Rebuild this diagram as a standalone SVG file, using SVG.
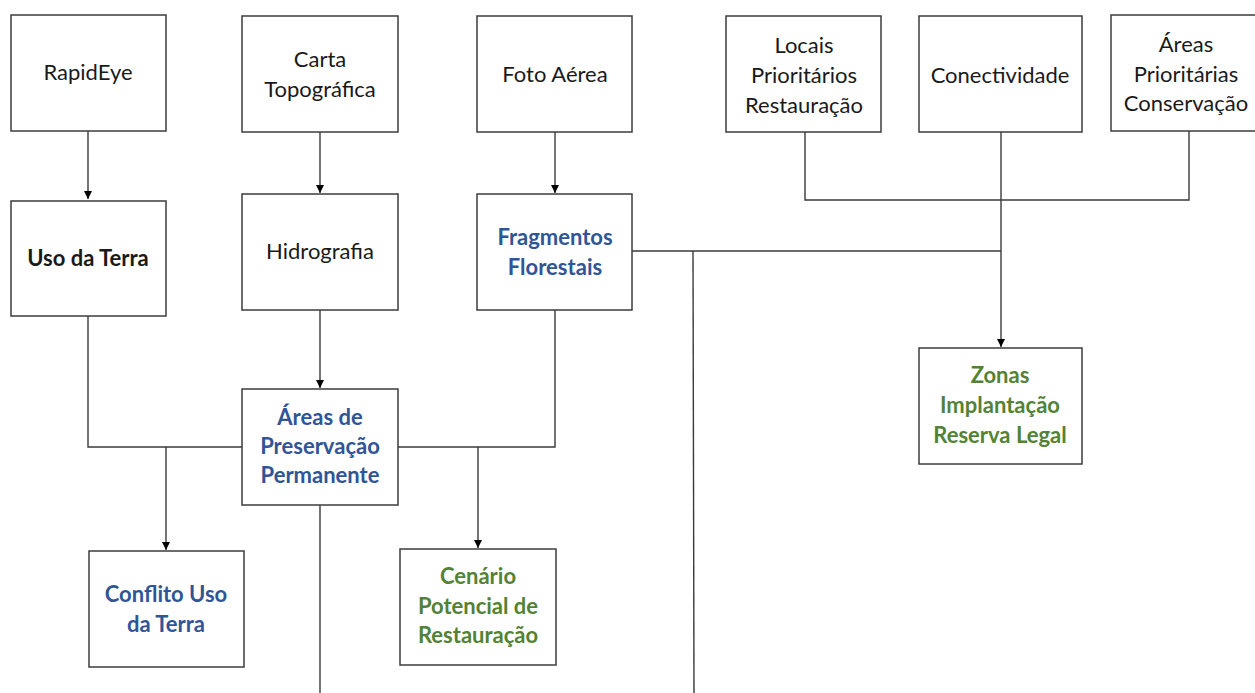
<svg xmlns="http://www.w3.org/2000/svg" width="1255" height="693" viewBox="0 0 1255 693">
<defs>
<marker id="arr" markerUnits="userSpaceOnUse" markerWidth="10" markerHeight="10" refX="8" refY="4" orient="auto">
<path d="M0,0 L8,4 L0,8 Z" fill="#000"/>
</marker>
<style>
.box{fill:#fff;stroke:#3c3c3c;stroke-width:1.5}
.t{font-family:Lato,"Liberation Sans",sans-serif;font-size:22px;fill:#1a1a1a;text-anchor:middle}
.b{font-weight:bold}
.blue{fill:#2F5597;font-weight:bold}
.green{fill:#548235;font-weight:bold}
.ln{fill:none;stroke:#3a3a3a;stroke-width:1.4}
</style>
</defs>
<rect width="1255" height="693" fill="#fff"/>
<g id="connectors">
<line class="ln" x1="88" y1="131" x2="88" y2="199" marker-end="url(#arr)"/>
<line class="ln" x1="320" y1="132" x2="320" y2="193" marker-end="url(#arr)"/>
<line class="ln" x1="555" y1="132" x2="555" y2="193" marker-end="url(#arr)"/>
<line class="ln" x1="320" y1="310" x2="320" y2="388" marker-end="url(#arr)"/>
<polyline class="ln" points="88,316 88,447 242,447"/>
<line class="ln" x1="166" y1="447" x2="166" y2="550" marker-end="url(#arr)"/>
<polyline class="ln" points="555,310 555,447 398,447"/>
<line class="ln" x1="478" y1="447" x2="478" y2="548" marker-end="url(#arr)"/>
<line class="ln" x1="320" y1="505" x2="320" y2="693"/>
<polyline class="ln" points="805,132 805,200 1189,200 1189,131"/>
<line class="ln" x1="1001" y1="132" x2="1001" y2="347" marker-end="url(#arr)"/>
<line class="ln" x1="632" y1="251" x2="1001" y2="251"/>
<line class="ln" x1="693" y1="251" x2="694" y2="693"/>
</g>
<g id="rapideye"><rect class="box" x="11" y="15" width="155" height="116"/><text class="t" x="88" y="80">RapidEye</text></g>
<g id="carta"><rect class="box" x="242" y="16" width="156" height="116"/><text class="t" x="320" y="67">Carta</text><text class="t" x="320" y="97">Topográfica</text></g>
<g id="foto"><rect class="box" x="477" y="16" width="155" height="116"/><text class="t" x="555" y="82">Foto Aérea</text></g>
<g id="locais"><rect class="box" x="726" y="16" width="155" height="116"/><text class="t" x="804" y="53">Locais</text><text class="t" x="804" y="83">Prioritários</text><text class="t" x="804" y="113">Restauração</text></g>
<g id="conectividade"><rect class="box" x="919" y="16" width="163" height="116"/><text class="t" x="1000" y="83">Conectividade</text></g>
<g id="areasprio"><rect class="box" x="1111" y="15" width="156" height="116"/><text class="t" x="1186" y="52">Áreas</text><text class="t" x="1186" y="82">Prioritárias</text><text class="t" x="1186" y="111">Conservação</text></g>
<g id="uso"><rect class="box" x="11" y="201" width="155" height="115"/><text class="t b" x="88" y="266">Uso da Terra</text></g>
<g id="hidro"><rect class="box" x="242" y="194" width="156" height="116"/><text class="t" x="320" y="259">Hidrografia</text></g>
<g id="frag"><rect class="box" x="477" y="194" width="155" height="116"/><text class="t blue" x="555" y="245">Fragmentos</text><text class="t blue" x="555" y="275">Florestais</text></g>
<g id="app"><rect class="box" x="242" y="389" width="156" height="116"/><text class="t blue" x="320" y="425">Áreas de</text><text class="t blue" x="320" y="454">Preservação</text><text class="t blue" x="320" y="483">Permanente</text></g>
<g id="zonas"><rect class="box" x="919" y="348" width="163" height="116"/><text class="t green" x="1000" y="383">Zonas</text><text class="t green" x="1000" y="413">Implantação</text><text class="t green" x="1000" y="443">Reserva Legal</text></g>
<g id="conflito"><rect class="box" x="89" y="551" width="155" height="116"/><text class="t blue" x="166" y="602">Conflito Uso</text><text class="t blue" x="166" y="632">da Terra</text></g>
<g id="cenario"><rect class="box" x="400" y="549" width="156" height="116"/><text class="t green" x="478" y="584">Cenário</text><text class="t green" x="478" y="614">Potencial de</text><text class="t green" x="478" y="643">Restauração</text></g>
</svg>
